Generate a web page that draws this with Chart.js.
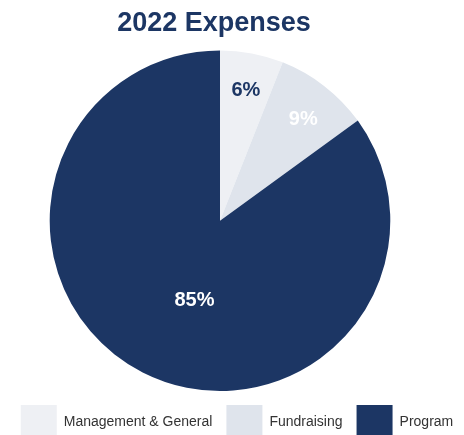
<!DOCTYPE html>
<html>
<head>
<meta charset="utf-8">
<script src="https://cdn.jsdelivr.net/npm/chart.js@4/dist/chart.umd.min.js"></script>
<style>
  html, body { margin: 0; padding: 0; overflow: hidden; background: #fff; }
  #wrap { width: 464px; height: 449px; }
</style>
</head>
<body>
<div id="wrap"><canvas id="pieChart" width="464" height="449"></canvas></div>
<script>
const categories = ['Management & General', 'Fundraising', 'Program'];
const shares = [6, 9, 85];
const sliceColors = ['#eef0f4', '#dfe4ec', '#1c3664'];
const labelColors = ['#1c3664', '#ffffff', '#ffffff'];
const labelRadius = [0.78, 0.77, 0.49]; // fraction of radius where the % sits
const labelSweep = [0.52, 0.55, 0.47];  // fraction along the slice angle

const FONT = "'Liberation Sans', Arial, Helvetica, sans-serif";

// the original pie sits a little left of the page centre, the legend a bit right
const shiftArea = {
  id: 'shiftArea',
  afterLayout(chart) {
    chart.chartArea.right -= 24;
    chart.chartArea.width -= 24;
    chart.titleBlock.right -= 36;
    chart.titleBlock.width -= 36;
    chart.legend.left += 5;
    chart.legend.right += 5;
  }
};

// draw the percentage on each slice
const sliceLabels = {
  id: 'sliceLabels',
  afterDatasetsDraw(chart) {
    const ctx = chart.ctx;
    const meta = chart.getDatasetMeta(0);
    ctx.save();
    ctx.font = 'bold 20px ' + FONT;
    ctx.textAlign = 'center';
    ctx.textBaseline = 'middle';
    meta.data.forEach((arc, i) => {
      const p = arc.getProps(['x', 'y', 'startAngle', 'endAngle', 'outerRadius']);
      const a = p.startAngle + (p.endAngle - p.startAngle) * labelSweep[i];
      const r = p.outerRadius * labelRadius[i];
      ctx.fillStyle = labelColors[i];
      ctx.fillText(shares[i] + '%', p.x + Math.cos(a) * r, p.y + Math.sin(a) * r);
    });
    ctx.restore();
  }
};

new Chart(document.getElementById('pieChart'), {
  type: 'pie',
  data: {
    labels: categories,
    datasets: [{
      data: shares,
      backgroundColor: sliceColors,
      borderWidth: 0
    }]
  },
  options: {
    responsive: false,
    animation: false,
    layout: { padding: 0 },
    plugins: {
      title: {
        display: true,
        text: '2022 Expenses',
        color: '#1c3664',
        font: { family: FONT, size: 27, weight: 'bold' },
        padding: { top: 7, bottom: 11 }
      },
      legend: {
        position: 'bottom',
        labels: {
          boxWidth: 36,
          boxHeight: 34,
          padding: 14,
          color: '#333333',
          font: { family: FONT, size: 14 }
        }
      },
      tooltip: { enabled: false }
    }
  },
  plugins: [shiftArea, sliceLabels]
});
</script>
</body>
</html>
